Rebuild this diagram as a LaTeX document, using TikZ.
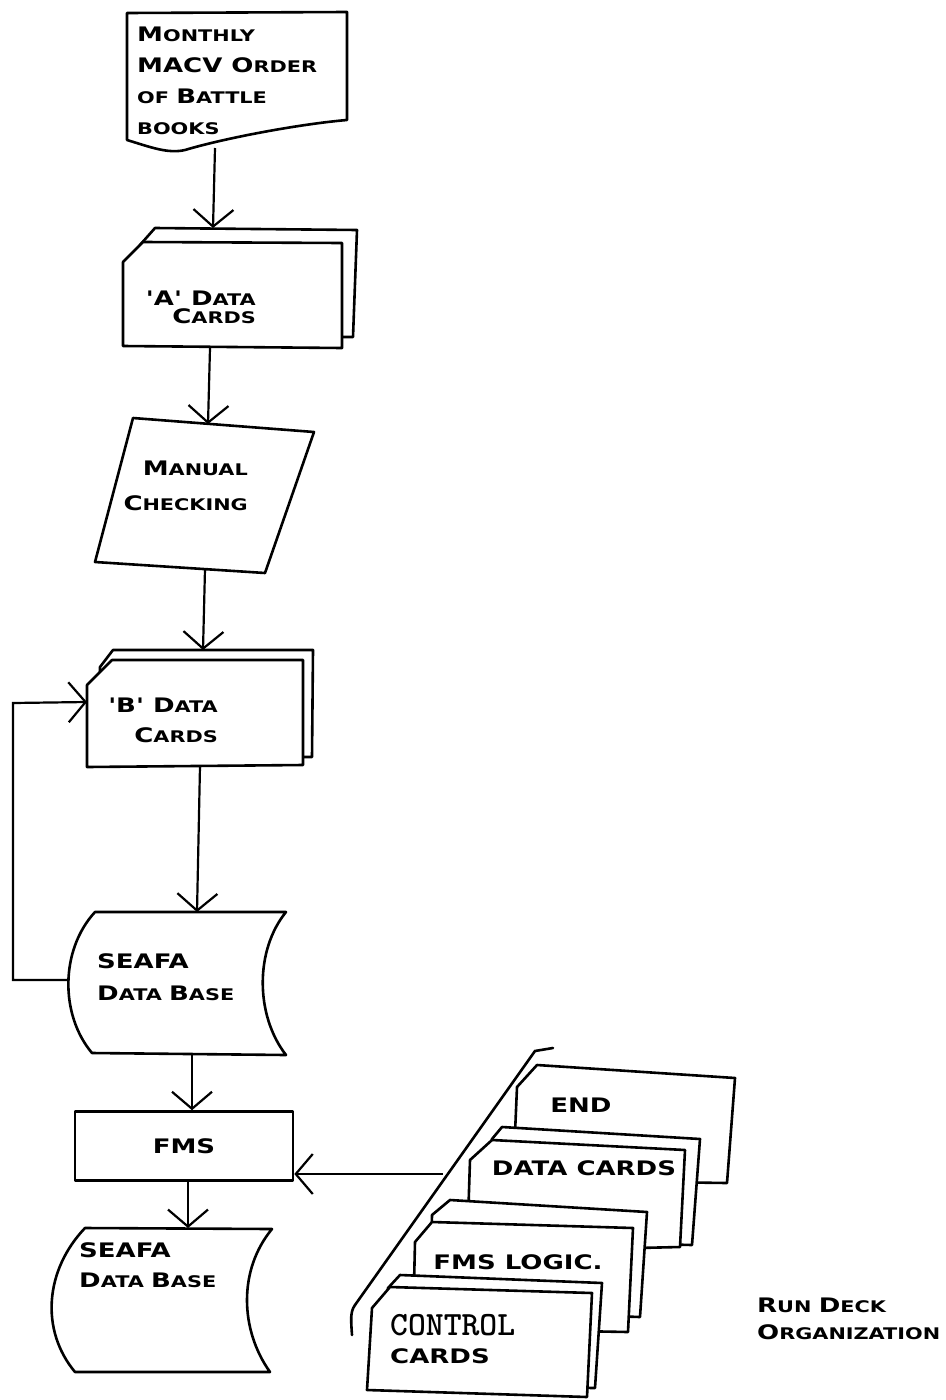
\documentclass[tikz,border=0pt]{standalone}
\usepackage{fontspec}
\newfontfamily\wide[FakeStretch=1.3]{DejaVu Sans}
\usetikzlibrary{arrows.meta}
% capital and small-capital sized lettering
\newcommand\bigc[1]{{\fontsize{20}{20}\selectfont #1}}
\newcommand\smc[1]{{\fontsize{16}{16}\selectfont #1}}
\tikzset{
  outline/.style={line width=2.6pt, line join=round},
  card/.style={outline, fill=white},
  flow/.style={line width=2.2pt, -{Straight Barb[length=17pt,width=40pt]}},
  lbl/.style={inner sep=0pt, font=\wide\bfseries\fontsize{16}{31}\selectfont},
  decklbl/.style={inner sep=0pt, font=\wide\bfseries\fontsize{20}{24}\selectfont},
}
\begin{document}
\begin{tikzpicture}[x=1pt,y=-1pt]
\fill[white] (0,0) rectangle (945,1400);
\useasboundingbox (0,0) rectangle (945,1400);

% ---- source document ----
\draw[outline, fill=white] (127,13) -- (347,12) -- (347,120)
  .. controls (300,124) and (225,138) .. (185,150)
  .. controls (168,154) and (150,147) .. (127,140) -- cycle;
\node[lbl, anchor=west, align=left] (doc) at (137,81)
  {\bigc{M}\smc{ONTHLY}\\\bigc{MACV O}\smc{RDER}\\\smc{OF }\bigc{B}\smc{ATTLE}\\\smc{BOOKS}};
\coordinate (doc-s) at (215,148);

% ---- 'A' data cards ----
\draw[card] (140,245) -- (155,228) -- (357,230) -- (353,337) -- (140,337) -- cycle;
\draw[card] (123,262) -- (143,242) -- (342,243) -- (342,348) -- (123,346) -- cycle;
\node[lbl, anchor=east, align=right] (acards) at (256,307)
  {\bigc{'A' D}\smc{ATA}\\[-13pt]\bigc{C}\smc{ARDS}};
\coordinate (a-n) at (213,228);
\coordinate (a-s) at (210,348);

% ---- manual checking ----
\draw[outline, fill=white] (133,418) -- (314,432) -- (265,573) -- (95,562) -- cycle;
\node[lbl, anchor=east, align=right] (manual) at (248,486)
  {\bigc{M}\smc{ANUAL}\\[4pt]\bigc{C}\smc{HECKING}};
\coordinate (man-n) at (208,424);
\coordinate (man-s) at (205,569);

% ---- 'B' data cards ----
\draw[card] (100,667) -- (113,650) -- (313,650) -- (312,757) -- (100,757) -- cycle;
\draw[card] (87,685) -- (112,660) -- (303,660) -- (303,765) -- (87,767) -- cycle;
\node[lbl, anchor=east, align=right] (bcards) at (218,720)
  {\bigc{'B' D}\smc{ATA}\\[-1pt]\bigc{C}\smc{ARDS}};
\coordinate (b-n) at (203,650);
\coordinate (b-w) at (87,702);
\coordinate (b-s) at (200,766);

% ---- SEAFA data base ----
\draw[outline, fill=white] (95,912) -- (286,912)
  .. controls (255,950) and (255,1015) .. (286,1055) -- (92,1053)
  .. controls (60,1015) and (60,950) .. (95,912) -- cycle;
\node[lbl, anchor=west, align=left] (seafa) at (97,977)
  {\bigc{SEAFA}\\[1pt]\bigc{D}\smc{ATA }\bigc{B}\smc{ASE}};
\coordinate (sea1-n) at (197,912);
\coordinate (sea1-w) at (68,980);
\coordinate (sea1-s) at (192,1054);
\coordinate (loop-b) at (13,980);
\coordinate (loop-t) at (13,703);

% ---- FMS ----
\node[draw, outline, minimum width=218pt, minimum height=69pt, inner sep=0pt,
  font=\wide\bfseries\fontsize{20}{24}\selectfont] (fms) at (184,1146) {FMS};

% ---- updated SEAFA data base ----
\draw[outline, fill=white] (85,1228) -- (272,1229)
  .. controls (238,1270) and (240,1330) .. (270,1372) -- (75,1372)
  .. controls (40,1330) and (45,1270) .. (85,1228) -- cycle;
\node[lbl, anchor=west, align=left] (seafa2) at (79,1265)
  {\bigc{SEAFA}\\[-1pt]\bigc{D}\smc{ATA }\bigc{B}\smc{ASE}};
\coordinate (sea2-n) at (188,1228);

% ---- run deck ----
\draw[line width=2.6pt, line cap=round] (553,1048) -- (535,1051) -- (355,1305)
  .. controls (350,1312) and (351,1320) .. (352,1335);
\draw[card] (517,1087) -- (537,1065) -- (735,1078) -- (727,1183) -- (513,1180) -- cycle;
\node[decklbl] (endc) at (581,1105) {END};
\draw[card] (492,1139) -- (502,1127) -- (700,1139) -- (692,1245) -- (492,1240) -- cycle;
\draw[card] (470,1160) -- (492,1140) -- (685,1150) -- (680,1247) -- (467,1252) -- cycle;
\node[decklbl] (datac) at (584,1168) {DATA CARDS};
\draw[card] (432,1215) -- (450,1200) -- (647,1212) -- (640,1317) -- (430,1310) -- cycle;
\draw[card] (415,1242) -- (432,1222) -- (633,1228) -- (628,1332) -- (413,1328) -- cycle;
\node[decklbl] (logic) at (518,1262) {FMS LOGIC.};
\draw[card] (388,1288) -- (400,1275) -- (602,1283) -- (595,1388) -- (380,1385) -- cycle;
\draw[card] (372,1308) -- (390,1287) -- (592,1293) -- (587,1397) -- (367,1390) -- cycle;
\node[lbl, anchor=west, align=left] (ctrl) at (390,1339)
  {{\ttfamily\fontsize{34}{34}\selectfont CONTROL}\\[-3pt]{\fontsize{20}{20}\selectfont CARDS}};
\coordinate (deck-w) at (443,1174);

\node[lbl, anchor=west, align=left] (rundeck) at (757,1319)
  {\bigc{R}\smc{UN }\bigc{D}\smc{ECK}\\[-4pt]\bigc{O}\smc{RGANIZATION}};

% ---- connectors ----
\draw[flow] (doc-s) -- (a-n);
\draw[flow] (a-s) -- (man-n);
\draw[flow] (man-s) -- (b-n);
\draw[flow] (b-s) -- (sea1-n);
\draw[flow] (sea1-w) -- (loop-b) -- (loop-t) -- (b-w);
\draw[flow] (sea1-s) -- (sea1-s |- fms.north);
\draw[flow] (fms.south -| sea2-n) -- (sea2-n);
\draw[flow] (deck-w) -- (deck-w -| fms.east);
\end{tikzpicture}
\end{document}
